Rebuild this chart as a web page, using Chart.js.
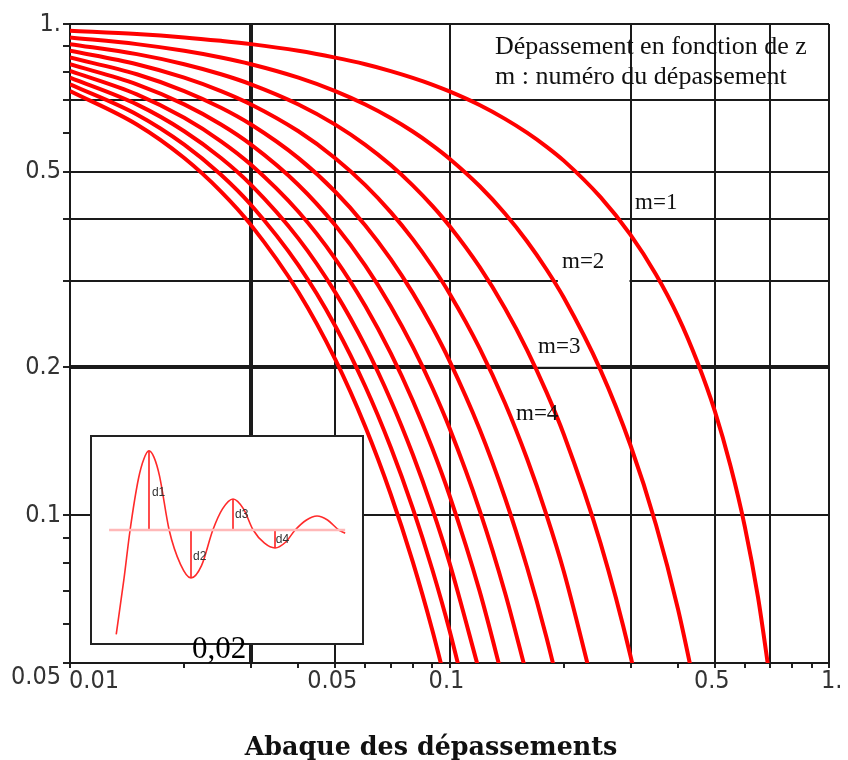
<!DOCTYPE html>
<html><head><meta charset="utf-8">
<script src="https://cdn.jsdelivr.net/npm/chart.js@4.4.1/dist/chart.umd.min.js"></script>
<style>
html,body{margin:0;padding:0;background:#fff;}
#wrap{position:relative;width:848px;height:760px;overflow:hidden;}
#main{position:absolute;left:0;top:0;}
#insetBox{position:absolute;left:90px;top:435px;width:274px;height:210px;box-sizing:border-box;border:2px solid #222;background:#fff;}
#inset{display:block;}
#label002{position:absolute;left:192px;top:632px;font-family:"Liberation Serif",serif;font-size:31px;line-height:1;color:#000;white-space:nowrap;}
</style></head>
<body><div id="wrap">
<canvas id="main" width="848" height="760"></canvas>
<div id="insetBox"><canvas id="inset" width="270" height="206"></canvas></div>
<div id="label002">0,02</div>
</div>
<script>
// damping ratio z (x axis)
const Z = [0.01, 0.015, 0.02, 0.025, 0.03, 0.04, 0.05, 0.06, 0.07, 0.08, 0.09, 0.1, 0.12, 0.14, 0.16, 0.18, 0.2, 0.25, 0.3, 0.35, 0.4, 0.45, 0.5, 0.55, 0.6, 0.65, 0.7];
// overshoot D_m, one series per overshoot number m
const M1 = [0.969, 0.954, 0.939, 0.924, 0.910, 0.882, 0.854, 0.828, 0.802, 0.777, 0.753, 0.729, 0.684, 0.641, 0.601, 0.563, 0.527, 0.444, 0.372, 0.309, 0.254, 0.205, 0.163, 0.126, 0.0948, 0.0681, 0.0460];
const M2 = [0.9391, 0.9100, 0.8819, 0.8546, 0.8281, 0.7776, 0.7301, 0.6855, 0.6435, 0.6040, 0.5668, 0.5318, 0.4679, 0.4113, 0.3612, 0.3167, 0.2773, 0.1974, 0.1386, 0.0956, 0.0644, 0.0422, null, null, null, null, null];
const M3 = [0.9100, 0.8682, 0.8282, 0.7900, 0.7536, 0.6857, 0.6239, 0.5675, 0.5162, 0.4694, 0.4267, 0.3878, 0.3201, 0.2638, 0.2171, 0.1782, 0.1461, 0.0877, 0.0516, 0.0296, null, null, null, null, null, null, null];
const M4 = [0.8819, 0.8282, 0.7777, 0.7303, 0.6858, 0.6047, 0.5331, 0.4699, 0.4140, 0.3648, 0.3212, 0.2828, 0.2189, 0.1692, 0.1304, 0.1003, 0.0769, 0.0390, null, null, null, null, null, null, null, null, null];
const M5 = [0.8546, 0.7901, 0.7303, 0.6752, 0.6241, 0.5332, 0.4555, 0.3890, 0.3321, 0.2835, 0.2418, 0.2062, 0.1498, 0.1085, 0.0784, 0.0565, 0.0405, null, null, null, null, null, null, null, null, null, null];
const M6 = [0.8282, 0.7537, 0.6859, 0.6241, 0.5679, 0.4702, 0.3892, 0.3221, 0.2664, 0.2203, 0.1821, 0.1504, 0.1024, 0.0696, 0.0471, null, null, null, null, null, null, null, null, null, null, null, null];
const M7 = [0.8026, 0.7190, 0.6441, 0.5770, 0.5168, 0.4146, 0.3326, 0.2666, 0.2137, 0.1712, 0.1371, 0.1097, 0.0701, 0.0446, null, null, null, null, null, null, null, null, null, null, null, null, null];
const M8 = [0.7778, 0.6859, 0.6049, 0.5334, 0.4703, 0.3656, 0.2842, 0.2208, 0.1714, 0.1330, 0.1032, 0.0800, 0.0479, null, null, null, null, null, null, null, null, null, null, null, null, null, null];
const M9 = [0.7537, 0.6543, 0.5680, 0.4931, 0.4280, 0.3224, 0.2428, 0.1828, 0.1375, 0.1034, 0.0777, 0.0583, 0.0328, null, null, null, null, null, null, null, null, null, null, null, null, null, null];
const M10 = [0.7304, 0.6242, 0.5334, 0.4558, 0.3895, 0.2843, 0.2075, 0.1513, 0.1103, 0.0804, 0.0585, 0.0425, null, null, null, null, null, null, null, null, null, null, null, null, null, null, null];
const SERIES = [M1, M2, M3, M4, M5, M6, M7, M8, M9, M10];

// axis ticks, grid lines and tick labels
const X_TICKS = [0.01, 0.02, 0.03, 0.04, 0.05, 0.06, 0.07, 0.08, 0.09, 0.1, 0.2, 0.3, 0.4, 0.5, 0.6, 0.7, 0.8, 0.9, 1];
const Y_TICKS = [0.05, 0.06, 0.07, 0.08, 0.09, 0.1, 0.2, 0.3, 0.4, 0.5, 0.6, 0.7, 0.8, 0.9, 1];
const X_GRID = [0.03, 0.05, 0.1, 0.3, 0.5, 0.7, 1];
const Y_GRID = [0.05, 0.1, 0.2, 0.3, 0.4, 0.5, 0.7, 1];
const X_BOLD = [0.03];
const Y_BOLD = [0.2];
const X_LABEL_VALUES = [0.01, 0.05, 0.1, 0.5, 1];
const X_LABELS = ['0.01', '0.05', '0.1', '0.5', '1.'];
const Y_LABEL_VALUES = [1, 0.5, 0.2, 0.1, 0.05];
const Y_LABELS = ['1.', '0.5', '0.2', '0.1', '0.05'];
const CURVE_LABELS = ['m=1', 'm=2', 'm=3', 'm=4'];
const INFO_LINES = ['Dépassement en fonction de z', 'm : numéro du dépassement'];
const TITLE = 'Abaque des dépassements';

// inset: damped response sketch (time, value)
const INSET_T = [0.22, 0.4, 0.55, 0.75, 0.88, 1.0, 1.12, 1.25, 1.48, 1.75, 2.0, 2.25, 2.52, 2.75, 3.0, 3.25, 3.48, 3.75, 4.0, 4.25, 4.48, 4.75, 5.0, 5.25, 5.52, 5.67];
const INSET_V = [0.21, 0.62, 1.0, 1.39, 1.54, 1.60, 1.55, 1.41, 1.0, 0.74, 0.636, 0.73, 1.0, 1.16, 1.235, 1.16, 1.0, 0.90, 0.864, 0.907, 1.0, 1.076, 1.106, 1.076, 1.0, 0.975];
const D_T = [1, 2, 3, 4];
const D_V = [1.60, 0.636, 1.235, 0.864];
const D_NAMES = ['d1', 'd2', 'd3', 'd4'];

const has = (arr, v) => arr.some(a => Math.abs(a - v) < 1e-9);

const decor = {
  id: 'decor',
  beforeDatasetsDraw(chart) {
    const ctx = chart.ctx, xs = chart.scales.x, ys = chart.scales.y;
    ctx.save();
    ctx.fillStyle = '#fff';
    // white label patches behind m=2 and m=3
    const boxes = [[0.193, 0.362, 0.298, 0.293], [0.166, 0.228, 0.248, 0.2005]];
    boxes.forEach(b => {
      const x1 = xs.getPixelForValue(b[0]), x2 = xs.getPixelForValue(b[2]);
      const y1 = ys.getPixelForValue(b[1]), y2 = ys.getPixelForValue(b[3]);
      ctx.fillRect(x1, y1, x2 - x1, y2 - y1);
    });
    ctx.restore();
  },
  afterDraw(chart) {
    const ctx = chart.ctx, xs = chart.scales.x, ys = chart.scales.y;
    ctx.save();
    // tick labels
    ctx.fillStyle = '#333';
    ctx.font = '25px "Liberation Sans Narrow", "DejaVu Sans Condensed", sans-serif';
    ctx.textBaseline = 'middle';
    X_LABEL_VALUES.forEach((v, i) => {
      const px = xs.getPixelForValue(v);
      if (i === 0) { ctx.textAlign = 'left'; ctx.fillText(X_LABELS[i], px - 1, 681); }
      else if (i === X_LABELS.length - 1) { ctx.textAlign = 'left'; ctx.fillText(X_LABELS[i], px - 8, 681); }
      else { ctx.textAlign = 'center'; ctx.fillText(X_LABELS[i], px - 3, 681); }
    });
    ctx.textAlign = 'right';
    Y_LABEL_VALUES.forEach((v, i) => {
      let py = ys.getPixelForValue(v);
      if (i === Y_LABELS.length - 1) py += 14;
      ctx.fillText(Y_LABELS[i], 61, py);
    });
    // curve labels
    ctx.fillStyle = '#111';
    ctx.font = '23px "Liberation Serif", serif';
    ctx.textAlign = 'left';
    ctx.textBaseline = 'alphabetic';
    const lpos = [[0.3083, 0.420], [0.1979, 0.318], [0.1711, 0.2137], [0.1497, 0.156]];
    CURVE_LABELS.forEach((t, i) => {
      ctx.fillText(t, xs.getPixelForValue(lpos[i][0]), ys.getPixelForValue(lpos[i][1]));
    });
    // info text
    ctx.font = '26px "Liberation Serif", serif';
    ctx.fillText(INFO_LINES[0], 495, 54);
    ctx.fillText(INFO_LINES[1], 495, 84);
    // title
    ctx.font = 'bold 100px "DejaVu Serif", serif';
    const w = ctx.measureText(TITLE).width;
    const fs = 100 * 373 / w;
    ctx.font = 'bold ' + fs.toFixed(2) + 'px "DejaVu Serif", serif';
    ctx.textAlign = 'center';
    ctx.textBaseline = 'alphabetic';
    ctx.fillText(TITLE, 431, 755);
    ctx.restore();
  }
};

const datasets = SERIES.map((s, k) => ({
  label: 'm=' + (k + 1),
  data: s.map((y, i) => ({ x: Z[i], y: y })),
  borderColor: '#ff0000',
  borderWidth: 4,
  pointRadius: 0,
  fill: false,
  cubicInterpolationMode: 'monotone',
  spanGaps: false
}));

new Chart(document.getElementById('main'), {
  type: 'line',
  data: { datasets },
  options: {
    responsive: false, animation: false, devicePixelRatio: 1,
    layout: { padding: { left: 63, top: 24, right: 19, bottom: 92 } },
    plugins: { legend: { display: false }, tooltip: { enabled: false }, title: { display: false } },
    scales: {
      x: {
        type: 'logarithmic', position: 'bottom', min: 0.01, max: 1,
        afterBuildTicks: s => { s.ticks = X_TICKS.map(v => ({ value: v })); },
        ticks: { display: false },
        grid: {
          drawTicks: true, tickLength: 5, tickColor: '#222', tickWidth: 2,
          color: c => has(X_GRID, c.tick.value) ? '#1a1a1a' : 'rgba(0,0,0,0)',
          lineWidth: c => has(X_BOLD, c.tick.value) ? 4 : 2
        },
        border: { display: true, color: '#1a1a1a', width: 2 }
      },
      y: {
        type: 'logarithmic', position: 'left', min: 0.05, max: 1,
        afterBuildTicks: s => { s.ticks = Y_TICKS.map(v => ({ value: v })); },
        ticks: { display: false },
        grid: {
          drawTicks: true, tickLength: 7, tickColor: '#222', tickWidth: 2,
          color: c => has(Y_GRID, c.tick.value) ? '#1a1a1a' : 'rgba(0,0,0,0)',
          lineWidth: c => has(Y_BOLD, c.tick.value) ? 4 : 2
        },
        border: { display: true, color: '#1a1a1a', width: 2 }
      }
    }
  },
  plugins: [decor]
});

// inset chart
const insetLabels = {
  id: 'insetLabels',
  afterDraw(chart) {
    const ctx = chart.ctx, xs = chart.scales.x, ys = chart.scales.y;
    ctx.save();
    ctx.fillStyle = '#333';
    ctx.font = '12px "Liberation Sans", sans-serif';
    ctx.textBaseline = 'middle';
    ctx.textAlign = 'left';
    const pos = [[1.07, 1.28], [2.05, 0.80], [3.05, 1.114], [4.02, 0.924]];
    D_NAMES.forEach((n, i) => ctx.fillText(n, xs.getPixelForValue(pos[i][0]), ys.getPixelForValue(pos[i][1])));
    ctx.restore();
  }
};
const insetSets = [
  { data: [{ x: 0.05, y: 1 }, { x: 5.67, y: 1 }], borderColor: '#ffb8b8', borderWidth: 2.5, pointRadius: 0 },
  { data: INSET_T.map((t, i) => ({ x: t, y: INSET_V[i] })), borderColor: '#ff2a2a', borderWidth: 1.6, pointRadius: 0, cubicInterpolationMode: 'monotone' }
];
D_T.forEach((t, i) => insetSets.push({ data: [{ x: t, y: 1 }, { x: t, y: D_V[i] }], borderColor: '#ff2020', borderWidth: 1.6, pointRadius: 0 }));
new Chart(document.getElementById('inset'), {
  type: 'line',
  data: { datasets: insetSets },
  options: {
    responsive: false, animation: false, devicePixelRatio: 1,
    layout: { padding: 0 },
    plugins: { legend: { display: false }, tooltip: { enabled: false } },
    scales: {
      x: { type: 'linear', display: false, min: -0.357, max: 6.071 },
      y: { type: 'linear', display: false, min: 0.144, max: 1.7045 }
    }
  },
  plugins: [insetLabels]
});
</script>
</body></html>
